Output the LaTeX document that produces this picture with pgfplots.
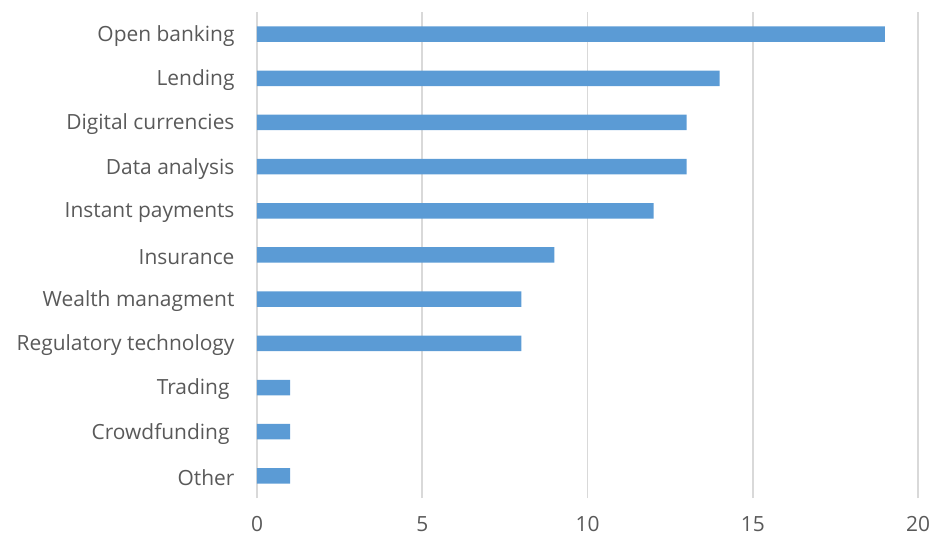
\documentclass[border=0pt]{standalone}
\usepackage{pgfplots}
\pgfplotsset{compat=1.18}
\usepackage{fontspec}
\setmainfont{Open Sans}
\definecolor{barblue}{HTML}{5B9BD5}
\definecolor{gridgray}{HTML}{D9D9D9}
\definecolor{txtgray}{HTML}{595959}
\begin{document}
\begin{tikzpicture}
\useasboundingbox (-257bp,-42bp) rectangle (676bp,498bp);
\begin{axis}[
  at={(0,0)}, anchor=south west,
  scale only axis,
  width=661bp, height=486bp,
  xbar, bar width=15.5bp,
  xmin=0, xmax=20,
  ymin=-0.5, ymax=10.5,
  xtick={0,5,10,15,20},
  ytick={0,...,10},
  yticklabels={Other,{Crowdfunding\kern5bp},{Trading\kern5bp},Regulatory technology,Wealth managment,Insurance,Instant payments,Data analysis,Digital currencies,Lending,Open banking},
  axis line style={draw=none},
  major tick length=0pt,
  xmajorgrids,
  grid style={gridgray, line width=1.5bp},
  tick label style={font=\fontsize{21}{24}\selectfont, text=txtgray},
  /pgf/number format/assume math mode=true,
  xticklabel style={yshift=-15bp},
  yticklabel style={xshift=-19bp, yshift=-2bp},
]
\addplot[fill=barblue, draw=none] coordinates {
 (1,0) (1,1) (1,2) (8,3) (8,4) (9,5) (12,6) (13,7) (13,8) (14,9) (19,10)
};
\end{axis}
\end{tikzpicture}
\end{document}
